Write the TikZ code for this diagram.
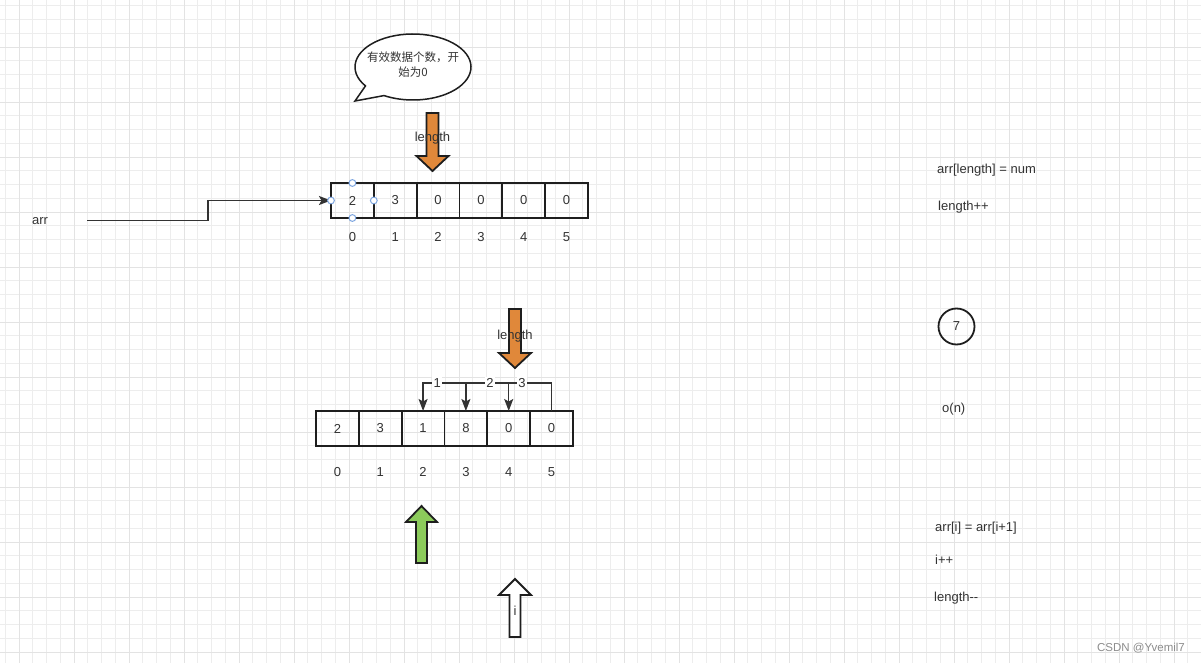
\documentclass[tikz,border=0pt]{standalone}
\usepackage{fontspec}
\setmainfont{Liberation Sans}
\newfontfamily\cjk{Noto Sans CJK SC}
\usetikzlibrary{arrows.meta, positioning, calc}
\definecolor{inktext}{HTML}{333333}
\definecolor{outline}{HTML}{1E1E1E}
\definecolor{pointer}{HTML}{E0883A}
\definecolor{cursor}{HTML}{8CCB5B}
\definecolor{handleblue}{HTML}{7EA6E0}

\begin{document}
\begin{tikzpicture}[x=1pt, y=-1pt, font=\fontsize{13}{15}\selectfont, >={Stealth[length=12pt, width=9pt, inset=2.5pt]},
  gridminor/.style={black!7, line width=0.9pt},
  gridmajor/.style={black!11, line width=0.9pt},
  cell/.style={draw=outline, line width=1.8pt, minimum width=42.83pt, minimum height=35pt, inner sep=0pt, outer sep=0pt, text=inktext},
  idx/.style={text=inktext, inner sep=0pt},
  note/.style={text=inktext, inner sep=0pt, anchor=west},
  conn/.style={draw=inktext, line width=1.5pt, ->},
  blockarrow/.style={draw=outline, line width=1.8pt, line join=miter},
  handle/.style={draw=handleblue, fill=white, line width=1pt}]
  \useasboundingbox (0,0) rectangle (1201,663);
  \fill[white] (0,0) rectangle (1201,663);
  % background grid
  \foreach \k in {-1,...,87}{ \draw[gridminor] ({19+\k*13.75},0) -- ({19+\k*13.75},663); }
  \foreach \k in {0,...,48}{ \draw[gridminor] (0,{-8+\k*13.75}) -- (1201,{-8+\k*13.75}); }
  \foreach \k in {-1,...,21}{ \draw[gridmajor] ({19+\k*55},0) -- ({19+\k*55},663); }
  \foreach \k in {0,...,12}{ \draw[gridmajor] (0,{-8+\k*55}) -- (1201,{-8+\k*55}); }

  % speech bubble
  \draw[blockarrow, fill=white, line width=1.5pt] (355,101) -- ({413+58*cos(145)},{67+33*sin(145)})
    arc[start angle=145, end angle=480, x radius=58, y radius=33] -- cycle;
  \node[text=inktext, align=center, font=\cjk\fontsize{11.5}{15}\selectfont] (bubble) at (413,65)
    {有效数据个数，开\\始为0};

  % top array
  \foreach \v [count=\i from 0] in {2,3,0,0,0,0}{
    \node[cell] (a\i) at ({352.4+\i*42.83},200.5) {\v};
    \node[idx] (ai\i) at ([yshift=-19pt]a\i.south) {\i};
  }
  \draw[blockarrow, fill=pointer] (426.5,113) -- (438.5,113) -- (438.5,156) -- (448.5,156)
    -- (432.5,171) -- (416.5,156) -- (426.5,156) -- cycle;
  \node[text=inktext] (len1) at (432.5,138) {length};
  \node[text=inktext] (arrlbl) at (40,221) {arr};
  \coordinate (arrstart) at (87,220.5);
  \draw[conn] (arrstart) -- ++(121,0) |- (a0.west);
  \foreach \an in {north,south,west,east}{ \draw[handle] (a0.\an) circle (3.4); }

  % bottom array
  \foreach \v [count=\i from 0] in {2,3,1,8,0,0}{
    \node[cell] (b\i) at ({337.4+\i*42.83},428.5) {\v};
    \node[idx] (bi\i) at ([yshift=-26pt]b\i.south) {\i};
  }
  \draw[blockarrow, fill=pointer] (509,309) -- (521,309) -- (521,353) -- (531,353)
    -- (515,368) -- (499,353) -- (509,353) -- cycle;
  \node[text=inktext] (len2) at (515,336) {length};
  \draw[conn] (b5.north) -- ++(0,-28) -| (b2.north)
    node[pos=0.445, fill=white, inner sep=1.5pt, text=inktext] (m1) {1};
  \draw[conn] (b5.north) -- ++(0,-28) -| (b3.north)
    node[pos=0.36, fill=white, inner sep=1.5pt, text=inktext] (m2) {2};
  \draw[conn] (b5.north) -- ++(0,-28) -| (b4.north)
    node[pos=0.345, fill=white, inner sep=1.5pt, text=inktext] (m3) {3};

  % index cursors
  \draw[blockarrow, fill=cursor] (416,563) -- (427,563) -- (427,522) -- (437,522)
    -- (421.5,506) -- (406,522) -- (416,522) -- cycle;
  \draw[blockarrow, fill=white] (509.5,637) -- (520.5,637) -- (520.5,595) -- (531,595)
    -- (515,579) -- (499,595) -- (509.5,595) -- cycle;
  \node[text=inktext] (ilbl) at (515,611) {i};

  % notes on the right
  \node[note] (add1) at (937,170) {arr[length] = num};
  \node[note] (add2) at (938,207) {length++};
  \node[circle, draw=outline, line width=1.8pt, minimum size=36pt, inner sep=0pt, text=inktext] (seven) at (956.5,326.5) {7};
  \node[note] (cost) at (942,409) {o(n)};
  \node[note] (del1) at (935,528) {arr[i] = arr[i+1]};
  \node[note] (del2) at (935,560) {i++};
  \node[note] (del3) at (934,598) {length-{}-};
  \node[text=black!45, font=\fontsize{11.5}{14}\selectfont] (mark) at (1141,648) {CSDN @Yvemil7};
\end{tikzpicture}
\end{document}
